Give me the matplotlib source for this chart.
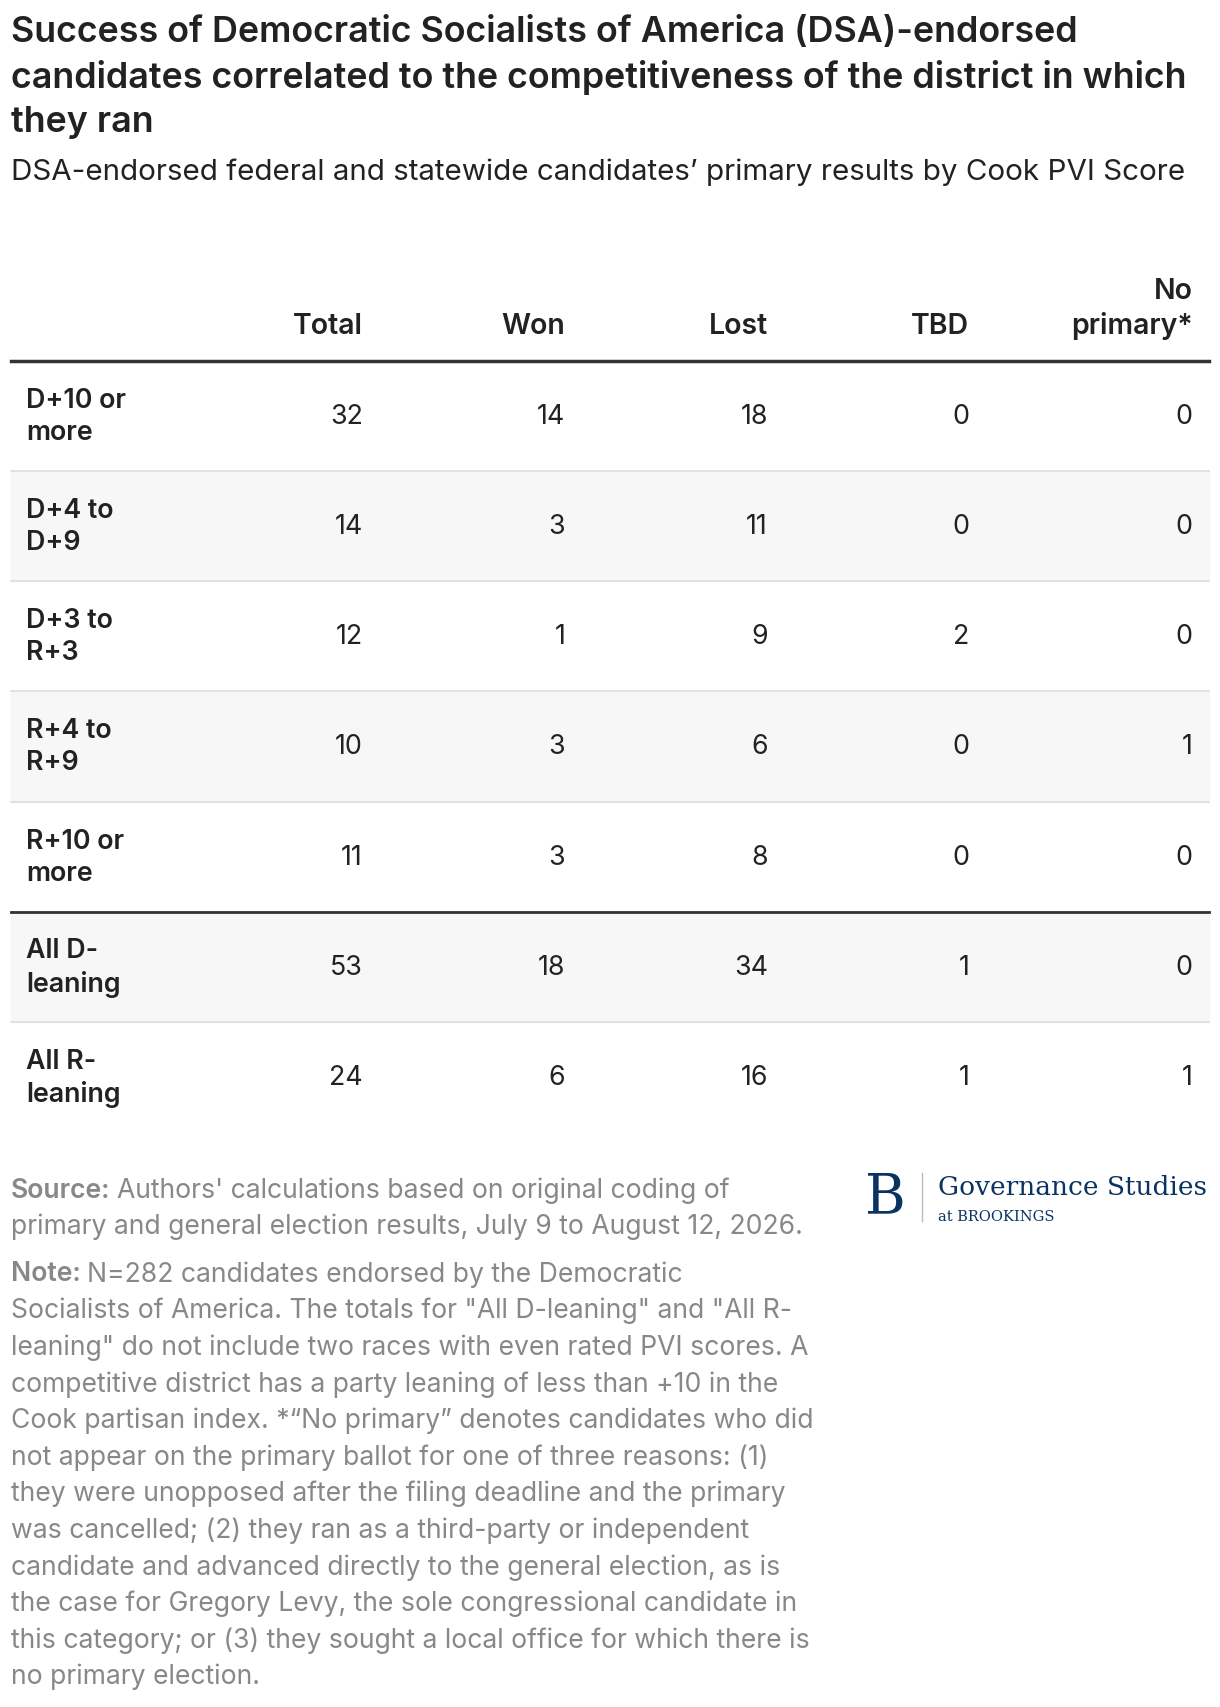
import matplotlib
matplotlib.use("Agg")
import matplotlib.pyplot as plt
from matplotlib.patches import Rectangle

plt.rcParams['font.family'] = ['Inter', 'DejaVu Sans']

title = ("Success of Democratic Socialists of America (DSA)-endorsed\n"
         "candidates correlated to the competitiveness of the district in which\n"
         "they ran")
subtitle = "DSA-endorsed federal and statewide candidates\u2019 primary results by Cook PVI Score"
columns = ["Total", "Won", "Lost", "TBD", "No\nprimary*"]
categories = ["D+10 or\nmore", "D+4 to\nD+9", "D+3 to\nR+3", "R+4 to\nR+9", "R+10 or\nmore",
              "All D-\nleaning", "All R-\nleaning"]
total = [32, 14, 12, 10, 11, 53, 24]
won = [14, 3, 1, 3, 3, 18, 6]
lost = [18, 11, 9, 6, 8, 34, 16]
tbd = [0, 0, 2, 0, 0, 1, 1]
noprim = [0, 0, 0, 1, 0, 0, 1]
source_lines = ["Authors' calculations based on original coding of",
                "primary and general election results, July 9 to August 12, 2026."]
note_lines = ["N=282 candidates endorsed by the Democratic",
        "Socialists of America. The totals for \"All D-leaning\" and \"All R-",
        "leaning\" do not include two races with even rated PVI scores. A",
        "competitive district has a party leaning of less than +10 in the",
        "Cook partisan index. *\u201cNo primary\u201d denotes candidates who did",
        "not appear on the primary ballot for one of three reasons: (1)",
        "they were unopposed after the filing deadline and the primary",
        "was cancelled; (2) they ran as a third-party or independent",
        "candidate and advanced directly to the general election, as is",
        "the case for Gregory Levy, the sole congressional candidate in",
        "this category; or (3) they sought a local office for which there is",
        "no primary election."]

W, H = 1120, 1568
fig = plt.figure(figsize=(12.2, 17.08), dpi=100)
ax = fig.add_axes([0, 0, 1, 1])
ax.set_xlim(0, W); ax.set_ylim(H, 0); ax.axis('off')

dark = "#222222"
for i, line in enumerate(title.split("\n")):
    ax.text(10, 30 + i * 41, line, fontsize=25.8, fontweight='semibold', color=dark, va='center')
ax.text(10, 158, subtitle, fontsize=21.3, color=dark, va='center')

colx = [333, 519, 705, 890, 1095]
for x, c in zip(colx, columns):
    ax.text(x, 312, c, fontsize=20.5, fontweight='semibold', color=dark, ha='right', va='bottom', linespacing=1.3)

top = 332; rh = 101.2
cols = [total, won, lost, tbd, noprim]
for i, cat in enumerate(categories):
    y0 = top + i * rh
    if i % 2 == 1:
        ax.add_patch(Rectangle((10, y0), 1100, rh, color="#f7f7f7", zorder=0))
    if i < len(categories) - 1:
        ax.plot([10, 1110], [y0 + rh, y0 + rh], color="#dddddd", lw=1.2)
    yc = y0 + rh / 2
    ax.text(24, yc, cat, fontsize=19.3, fontweight='semibold', color=dark, va='center', linespacing=1.3)
    for x, col in zip(colx, cols):
        ax.text(x, yc, str(col[i]), fontsize=19.3, color=dark, ha='right', va='center')
ax.plot([10, 1110], [top, top], color="#333333", lw=2.5)
ax.plot([10, 1110], [top + 5 * rh, top + 5 * rh], color="#333333", lw=2)

grey = "#888888"
fig.canvas.draw()
r = fig.canvas.get_renderer()
inv = ax.transData.inverted()

def block(label, lines, y):
    t = ax.text(10, y, label, fontsize=19.1, fontweight='semibold', color=grey, va='center')
    bb = t.get_window_extent(r)
    x1 = inv.transform((bb.x1, bb.y0))[0] + 6
    ax.text(x1, y, lines[0], fontsize=19.1, color=grey, va='center')
    for k, ln in enumerate(lines[1:], 1):
        ax.text(10, y + k * 33.6, ln, fontsize=19.1, color=grey, va='center')

block("Source:", source_lines, 1093)
block("Note:", note_lines, 1170)

navy = "#0b3361"
ax.text(813, 1100, "B", fontsize=40, family='DejaVu Serif', color=navy, ha='center', va='center')
ax.plot([846, 846], [1078, 1122], color="#bbbbbb", lw=1)
ax.text(861, 1090, "Governance Studies", fontsize=19, family='DejaVu Serif', color=navy, va='center')
ax.text(861, 1117, "at BROOKINGS", fontsize=10.5, family='DejaVu Serif', color=navy, va='center')

fig.savefig("out.png", dpi=100)
